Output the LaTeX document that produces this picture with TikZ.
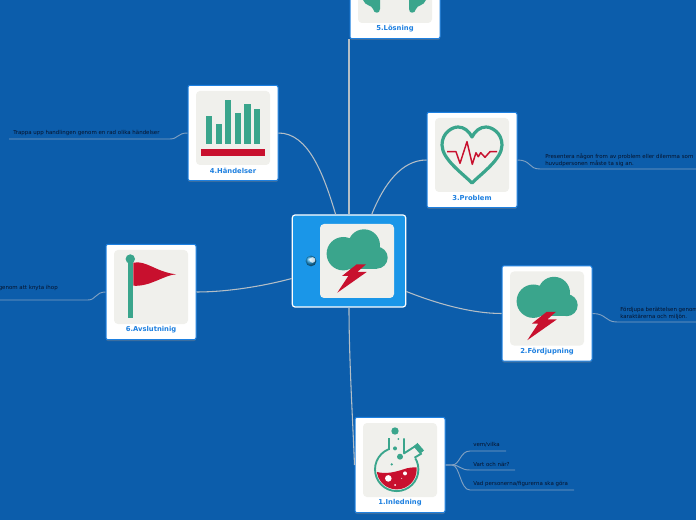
\documentclass[tikz,border=0pt]{standalone}
\usepackage{fontspec}
\setmainfont{DejaVu Sans}
\usetikzlibrary{shadows}
\definecolor{ColorBack}{HTML}{0C5DAB}
\definecolor{ColorMain}{HTML}{1A96E8}
\definecolor{ColorEdge}{HTML}{1E80E0}
\definecolor{ColorPanel}{HTML}{F0F0EC}
\definecolor{ColorTeal}{HTML}{3AA58C}
\definecolor{ColorRed}{HTML}{C8102E}
\definecolor{ColorLine}{HTML}{B4BEC6}
\definecolor{ColorSub}{HTML}{7FA0C2}
\definecolor{ColorText}{HTML}{06122A}
\tikzset{
    card/.style={draw=ColorEdge, line width=0.75pt, fill=white, rounded corners=1.5pt, minimum width=67.5pt, minimum height=71.5pt, inner sep=0pt, drop shadow={shadow xshift=0pt, shadow yshift=-1pt, opacity=0.45}},
    panel/.style={fill=ColorPanel, rounded corners=3pt, minimum size=55.5pt, inner sep=0pt},
    cardlabel/.style={text=ColorEdge, font=\fontsize{5.1}{6}\selectfont\bfseries, inner sep=0pt},
    subtext/.style={text=ColorText, font=\fontsize{4.1}{5.2}\selectfont, inner sep=0pt, align=left},
    mainline/.style={draw=ColorLine, line width=0.8pt},
    subline/.style={draw=ColorSub, line width=0.7pt},
}
\begin{document}
\begin{tikzpicture}[x=0.75pt, y=-0.75pt]
    \useasboundingbox (0,0) rectangle (696,520);
    \clip (0,0) rectangle (696,520);
    \fill[ColorBack] (0,0) rectangle (696,520);
    % central card
    \node[draw=white, line width=0.9pt, fill=ColorMain, rounded corners=2pt, minimum width=85pt, minimum height=69pt] (centre) at (349,261) {};
    \node[panel] (pc) at (357,261) {};
    \node[circle, ball color=ColorMain!85!ColorTeal, minimum size=8pt, inner sep=0pt] (globe) at (311,261) {};
    \fill[white, opacity=0.75] (312.5,260) circle (2.8);
    % cards
    \foreach \n/\x/\y/\t in {1/400/465/1.Inledning, 2/547/313.5/2.Fördjupning, 3/472/160/3.Problem, 4/233/133/4.Händelser, 5/395/-9/5.Lösning, 6/151/292/6.Avslutninig} {
        \node[card] (c\n) at (\x,\y) {};
        \node[panel] (p\n) at (\x,\y-5) {};
        \node[cardlabel] (l\n) at (\x,\y+38) {\t};
    }
    % main branches
    \draw[mainline] (centre.north) .. controls +(0,-60) and +(0,60) .. (c5.south -| centre.north);
    \draw[mainline] (centre.106) .. controls +(-12,-40) and +(30,0) .. (c4.east);
    \draw[mainline] (centre.64) .. controls +(12,-30) and +(-25,0) .. (c3.west);
    \draw[mainline] (centre.197) .. controls +(-30,8) and +(30,0) .. (c6.east);
    \draw[mainline] (centre.-28) .. controls +(30,12) and +(-30,0) .. (c2.west);
    \draw[mainline] (centre.south) .. controls +(0,50) and +(-2,-50) .. (c1.west);
    % sub branches
    \coordinate (k3) at (540,169);
    \coordinate (e3) at (696,169);
    \draw[subline] (c3.east) .. controls +(14,0) and +(-12,0) .. (k3) -- (e3);
    \node[subtext, anchor=west] (t3) at (545,160) {Presentera någon from av problem eller dilemma som\\huvudpersonen måste ta sig an.};
    \coordinate (k2) at (617,322);
    \coordinate (e2) at (696,322);
    \draw[subline] (c2.east) .. controls +(14,0) and +(-12,0) .. (k2) -- (e2);
    \node[subtext, anchor=west] (t2) at (620,313.5) {Fördjupa berättelsen genom\\karaktärerna och miljön.};
    \coordinate (k4) at (170,139);
    \coordinate (e4) at (9,139);
    \draw[subline] (c4.west) .. controls +(-10,0) and +(8,0) .. (k4) -- (e4);
    \node[subtext, anchor=west] (t4) at (13,133) {Trappa upp handlingen genom en rad olika händelser};
    \coordinate (k6) at (88,300);
    \coordinate (e6) at (0,300);
    \draw[subline] (c6.west) .. controls +(-10,0) and +(8,0) .. (k6) -- (e6);
    \node[subtext, anchor=east] (t6) at (58,288) {genom att knyta ihop};
    \coordinate (j1) at (452,465);
    \foreach \k/\y/\e in {a/451/506, b/470/515, c/490/574} {
        \coordinate (k\k) at (470,\y);
        \coordinate (e\k) at (\e,\y);
        \draw[subline] (c1.east) -- (j1) .. controls +(8,0) and +(-10,0) .. (k\k) -- (e\k);
    }
    \node[subtext, anchor=west] (ta) at (473,445) {vem/vilka};
    \node[subtext, anchor=west] (tb) at (473,464) {Vart och när?};
    \node[subtext, anchor=west] (tc) at (473,484) {Vad personerna/figurerna ska göra};
    % cloud icons
    \foreach \x/\y in {357/261, 547/308.5} {
        \begin{scope}[shift={(\x,\y)}]
            \fill[ColorTeal] (7,-15.7) circle (16) (-13.7,-7.3) circle (16.7) (19.7,-3.3) circle (11);
            \fill[ColorTeal] (-13.7,-7.3) rectangle (19.7,7.7);
            \fill[ColorRed] (-0.3,3.3) -- (9,3.3) -- (0.3,11) -- (9.7,11) -- (-19.7,31.7) -- (-8.7,15) -- (-15,15) -- cycle;
        \end{scope}
    }
    % heart
    \begin{scope}[shift={(472,155)}]
        \draw[ColorTeal, line width=2.4pt, line join=round] (0,28) .. controls (-10,18) and (-30,4) .. (-30,-10) .. controls (-30,-22) and (-20,-28) .. (-14,-28) .. controls (-8,-28) and (-3,-24) .. (0,-18) .. controls (3,-24) and (8,-28) .. (14,-28) .. controls (20,-28) and (30,-22) .. (30,-10) .. controls (30,4) and (10,18) .. (0,28) -- cycle;
        \draw[ColorRed, line width=1.1pt, line join=round] (-25,-3.3) -- (-16,-3.3) -- (-12,8.3) -- (-5,-13.3) -- (0.3,9.3) -- (4,-2.3) -- (6.3,1.7) -- (8.7,-2.3) -- (13,2.3) -- (18,-3.3) -- (25,-3.3);
    \end{scope}
    % bars
    \foreach \l/\r/\t in {206/212.3/115.7, 215.7/221.7/124.3, 225.3/231.3/100.3, 235/241/113.3, 244.3/250.7/103.7, 254/260/108.7} {
        \fill[ColorTeal] (\l,\t) rectangle (\r,143.7);
    }
    \fill[ColorRed] (201.3,149.3) rectangle (264.7,155.7);
    % flag
    \fill[ColorTeal] (128,259) rectangle (133.3,318);
    \fill[ColorTeal] (130.3,259) circle (4.7);
    \fill[ColorRed] (133.3,262.7) .. controls (146,260) and (156,272) .. (176,274.3) .. controls (164,275) and (150,287) .. (133.3,285.7) -- cycle;
    % flask
    \begin{scope}[shift={(400,459.7)}]
        \begin{scope}
            \clip (-3.3,9.7) circle (20);
            \fill[ColorRed] (-24,12) .. controls (-14,15) and (-4,12) .. (3.3,9.7) .. controls (8,8) and (12,7.5) .. (18,7.7) -- (18,34) -- (-24,34) -- cycle;
        \end{scope}
        \draw[ColorTeal, line width=1.4pt] (-3.3,9.7) circle (21.7);
        \fill[ColorPanel] (-9.7,-14) rectangle (3,-5);
        \fill[ColorPanel] (4,-13) -- (20,-13) -- (20,-5) -- (12,1) -- (4,-6) -- cycle;
        \draw[ColorTeal, line width=1.4pt, line join=round] (-10.7,-21.3) -- (-10.7,-10);
        \draw[ColorTeal, line width=1.4pt, line join=round] (4,-21.3) -- (4,-6.3) -- (16,-14);
        \draw[ColorTeal, line width=1.4pt, line join=round] (21.7,-6.3) -- (14.5,-2);
        \draw[ColorTeal, line width=4pt] (15.5,-15) -- (22,-7.5);
        \fill[ColorTeal] (-5,-28.7) circle (3.7) (-1.7,-20.7) circle (1) (-5,-11.3) circle (2) (0,-3) circle (3) (-8.3,4.7) circle (1.3);
        \fill[white] (-11.7,18.7) circle (3.3) (5,13.7) circle (2) (1.7,18.7) circle (0.5) (-5,25.3) circle (1);
    \end{scope}
    % top card blobs
    \fill[ColorTeal] (363,-5) -- (363,0) .. controls (365,6) and (372,5) .. (373,9) .. controls (374,14) and (380,14) .. (380,9) -- (380,-5) -- cycle;
    \fill[ColorTeal] (426,-5) -- (426,0) .. controls (424,6) and (417,5) .. (416,9) .. controls (415,14) and (409,14) .. (409,9) -- (409,-5) -- cycle;
\end{tikzpicture}
\end{document}
